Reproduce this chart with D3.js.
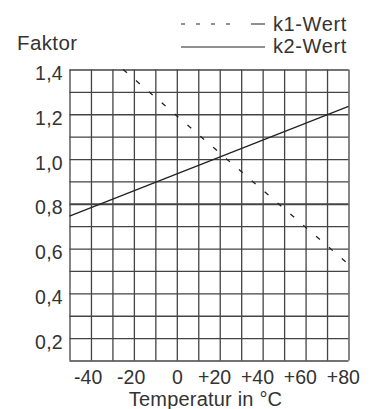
<!DOCTYPE html>
<html><head><meta charset="utf-8">
<script src="https://cdn.jsdelivr.net/npm/d3@7"></script>
<style>
body{margin:0;background:#fff;}
svg text{font-family:"Liberation Sans",Arial,sans-serif;fill:#333;}
</style></head>
<body><svg id="c" width="377" height="409"></svg>
<script>
const xGridValues = [-50,-40,-30,-20,-10,0,10,20,30,40,50,60,70,80];
const yGridValues = [0.1,0.2,0.3,0.4,0.5,0.6,0.7,0.8,0.9,1.0,1.1,1.2,1.3,1.4];
const xTickValues = [-40,-20,0,20,40,60,80];
const xTickLabels = ["-40","-20","0","+20","+40","+60","+80"];
const yTickValues = [0.2,0.4,0.6,0.8,1.0,1.2,1.4];
const yTickLabels = ["0,2","0,4","0,6","0,8","1,0","1,2","1,4"];
const k1Temp = [-25, 80];
const k1Values = [1.4, 0.53];
const k2Temp = [-50, 80];
const k2Values = [0.745, 1.235];
const seriesNames = ["k1-Wert","k2-Wert"];

const svg = d3.select("#c");
const L=69.5, R=348.5, T=69.5, B=360.5;
const TFS = 19.5;
const x = d3.scaleLinear().domain([-50,80]).range([L,R]);
const y = d3.scaleLinear().domain([0.1,1.4]).range([B,T]);

// grid
const grid = svg.append("g");
grid.append("g").attr("transform",`translate(0,${B})`)
  .call(d3.axisBottom(x).tickValues(xGridValues).tickSize(-(B-T)).tickFormat(""))
  .call(g=>{g.select(".domain").remove(); g.selectAll("line").attr("stroke","#444").attr("stroke-width",1.3);});
grid.append("g").attr("transform",`translate(${L},0)`)
  .call(d3.axisLeft(y).tickValues(yGridValues).tickSize(-(R-L)).tickFormat(""))
  .call(g=>{g.select(".domain").remove(); g.selectAll("line").attr("stroke","#444").attr("stroke-width",d=>Math.abs(d-0.8)<1e-9?2:1.3);});

// series
const line = d3.line().x(d=>x(d[0])).y(d=>y(d[1]));
svg.append("path").datum(k2Temp.map((t,i)=>[t,k2Values[i]]))
  .attr("d",line).attr("fill","none").attr("stroke","#222").attr("stroke-width",1.3);
svg.append("path").datum(k1Temp.map((t,i)=>[t,k1Values[i]]))
  .attr("d",line).attr("fill","none").attr("stroke","#222").attr("stroke-width",1.3)
  .attr("stroke-dasharray","5,12");

// y labels
const ya = svg.append("g").attr("transform",`translate(${L-6.5},0)`)
  .call(d3.axisLeft(y).tickValues(yTickValues).tickSize(0).tickFormat((d,i)=>yTickLabels[i]));
ya.select(".domain").remove();
ya.selectAll("text").attr("font-size",TFS).attr("fill","#333").attr("font-family","Liberation Sans, Arial, sans-serif")
  .attr("x",0).attr("dy",null).attr("y",10).attr("letter-spacing",0.3);

// x labels: digits centered on gridline
const xa = svg.append("g").attr("transform",`translate(0,${B})`)
  .call(d3.axisBottom(x).tickValues(xTickValues).tickSize(0).tickFormat((d,i)=>xTickLabels[i]));
xa.select(".domain").remove();
xa.selectAll("text").attr("font-size",TFS).attr("fill","#333").attr("font-family","Liberation Sans, Arial, sans-serif")
  .attr("dy",null).attr("y",23)
  .each(function(d,i){
    const lab = xTickLabels[i];
    const sign = /^[+-]/.test(lab) ? this.getSubStringLength(0,1) : 0;
    d3.select(this).attr("dx", -sign/2);
  });

svg.append("text").attr("x",205.5).attr("y",406).attr("text-anchor","middle")
  .attr("font-size",20).attr("letter-spacing",0.2).text("Temperatur in °C");
svg.append("text").attr("x",17).attr("y",50).attr("font-size",20.5).attr("letter-spacing",0.4).text("Faktor");

// legend
const lg = svg.append("g");
lg.append("line").attr("x1",181).attr("x2",265).attr("y1",24).attr("y2",24)
  .attr("stroke","#222").attr("stroke-width",1.2).attr("stroke-dasharray","4,11,4,11,4,11,4,21,14");
lg.append("line").attr("x1",181).attr("x2",265).attr("y1",47).attr("y2",47)
  .attr("stroke","#222").attr("stroke-width",1.2);
lg.selectAll("text.lg").data(seriesNames).join("text").attr("class","lg")
  .attr("x",273).attr("y",(d,i)=>30.7+i*22.6).attr("font-size",20).attr("letter-spacing",0.6).text(d=>d);
</script></body></html>
